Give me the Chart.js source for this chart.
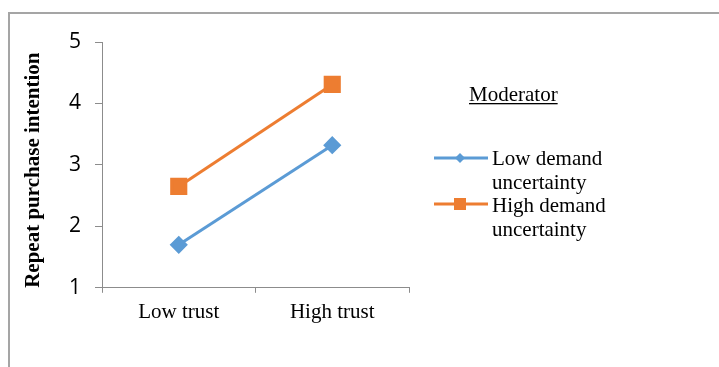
<!DOCTYPE html>
<html>
<head>
<meta charset="utf-8">
<script src="https://cdn.jsdelivr.net/npm/chart.js@4"></script>
<style>
  html, body { margin: 0; padding: 0; background: #fff; }
  #wrap { position: relative; width: 719px; height: 367px; }
  #frame { position: absolute; left: 8px; top: 12px; right: 0; bottom: 0;
           border-top: 2px solid #a5a5a5; border-left: 2px solid #a5a5a5; }
  canvas { position: absolute; left: 0; top: 0; }
</style>
</head>
<body>
<div id="wrap">
  <div id="frame"></div>
  <canvas id="chart" width="719" height="367"></canvas>
</div>
<script>
// 데이터
const categories = ["Low trust", "High trust"];
const lowDemand = [1.70, 3.32];
const highDemand = [2.65, 4.31];
const seriesNames = ["Low demand uncertainty", "High demand uncertainty"];
const yTicks = [1, 2, 3, 4, 5];

const BLUE = "#5b9bd5";
const ORANGE = "#ed7d31";
const AXIS = "#8c8c8c";
const SERIF = "'Liberation Serif', 'Times New Roman', serif";

// 오른쪽 범례 (두 줄 라벨)
const sideLegend = {
  id: "sideLegend",
  afterDraw(chart) {
    const ctx = chart.ctx;
    ctx.save();
    ctx.fillStyle = "#000";
    ctx.font = "21px " + SERIF;
    ctx.textBaseline = "alphabetic";
    ctx.fillText("Moderator", 469, 101);
    const w = ctx.measureText("Moderator").width;
    ctx.fillRect(469, 103, w, 1.3);

    // [선 y, 첫 줄 baseline, 둘째 줄 baseline]
    const rows = [[158, 165, 189], [204, 212, 236]];
    chart.data.datasets.forEach((ds, i) => {
      const y = rows[i][0];
      ctx.strokeStyle = ds.borderColor;
      ctx.lineWidth = 3;
      ctx.beginPath();
      ctx.moveTo(434, y);
      ctx.lineTo(488, y);
      ctx.stroke();
      ctx.fillStyle = ds.borderColor;
      if (ds.pointStyle === "rect") {
        ctx.fillRect(454, y - 6, 12, 12);
      } else {
        ctx.beginPath();
        ctx.moveTo(460, y - 5);
        ctx.lineTo(465, y);
        ctx.lineTo(460, y + 5);
        ctx.lineTo(455, y);
        ctx.closePath();
        ctx.fill();
      }
      const words = ds.label.split(" ");
      ctx.fillStyle = "#000";
      ctx.fillText(words.slice(0, 2).join(" "), 492, rows[i][1]);
      ctx.fillText(words.slice(2).join(" "), 492, rows[i][2]);
    });
    ctx.restore();
  }
};

new Chart(document.getElementById("chart"), {
  type: "line",
  data: {
    labels: categories,
    datasets: [
      {
        label: seriesNames[0],
        data: lowDemand,
        borderColor: BLUE,
        backgroundColor: BLUE,
        borderWidth: 3,
        pointStyle: "rectRot",
        pointRadius: 7,
        pointHoverRadius: 7
      },
      {
        label: seriesNames[1],
        data: highDemand,
        borderColor: ORANGE,
        backgroundColor: ORANGE,
        borderWidth: 3,
        pointStyle: "rect",
        pointRadius: 10,
        pointHoverRadius: 10
      }
    ]
  },
  options: {
    responsive: false,
    animation: false,
    layout: { padding: { left: 0, right: 310, top: 42, bottom: 35 } },
    plugins: { legend: { display: false }, tooltip: { enabled: false } },
    scales: {
      x: {
        offset: true,
        grid: { offset: true, drawOnChartArea: false, color: AXIS, tickLength: 5 },
        border: { color: AXIS, width: 1 },
        ticks: { color: "#000", font: { family: SERIF, size: 21 }, padding: 7 }
      },
      y: {
        min: 1,
        max: 5,
        afterFit(scale) { scale.width = 102; },
        afterBuildTicks(scale) { scale.ticks = yTicks.map(v => ({ value: v })); },
        grid: { drawOnChartArea: false, color: AXIS, tickLength: 7 },
        border: { color: AXIS, width: 1 },
        ticks: { color: "#000", font: { family: "Open Sans", size: 21 }, padding: 14 },
        title: {
          display: true,
          text: "Repeat purchase intention",
          align: "start",
          color: "#000",
          font: { family: SERIF, size: 21, weight: "bold" },
          padding: { top: 21, bottom: 0 }
        }
      }
    }
  },
  plugins: [sideLegend]
});
</script>
</body>
</html>
